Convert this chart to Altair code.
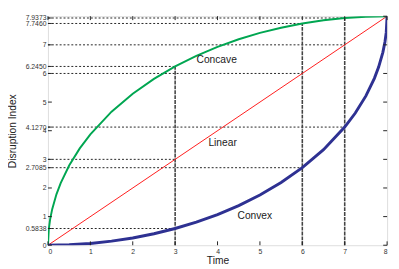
import altair as alt
import pandas as pd

# ---- data ----
concave_x = [0, 0.02, 0.05, 0.1, 0.2, 0.3, 0.5, 0.75, 1, 1.5, 2, 2.5, 3, 3.5, 4, 4.5, 5, 5.5, 6, 6.5, 7, 7.5, 8]
concave_y = [0, 0.565, 0.893, 1.261, 1.778, 2.170, 2.784, 3.382, 3.873, 4.664, 5.292, 5.809, 6.245, 6.614,
             6.928, 7.194, 7.416, 7.599, 7.746, 7.858, 7.937, 7.984, 8.0]
convex_x = [0, 0.5, 1, 1.5, 2, 2.5, 3, 3.5, 4, 4.5, 5, 5.5, 6, 6.5, 7, 7.25, 7.5, 7.7, 7.8, 7.9, 7.95, 7.98, 8]
convex_y = [0, 0.016, 0.063, 0.142, 0.254, 0.401, 0.584, 0.806, 1.072, 1.386, 1.755, 2.191, 2.708, 3.336,
            4.127, 4.618, 5.216, 5.830, 6.222, 6.739, 7.107, 7.435, 8.0]
linear_x = [0, 8]
linear_y = [0, 8]

# reference lines: (y value, x end)
href_y = [0.5838, 3, 6.2450, 2.7085, 6, 7.7460, 4.1270, 7, 7.9373]
href_x = [3, 3, 3, 6, 6, 6, 7, 7, 7]
vref_x = [3, 6, 7]
vref_top = [6.2450, 7.7460, 7.9373]

x_ticks = [0, 1, 2, 3, 4, 5, 6, 7, 8]
y_ticks_left = [0, 0.5838, 1, 2, 2.7085, 3, 4, 4.1270, 5, 6, 6.2450, 7, 7.7460, 7.9373]
y_ticks_right = [0, 1, 2, 3, 4, 5, 6, 7, 8]

label_text = ["Concave", "Linear", "Convex"]
label_x = [3.98, 4.12, 4.88]
label_y = [6.47, 3.57, 1.02]

W, H = 348, 235
FONT = "Liberation Sans"

xscale = alt.Scale(domain=[0, 8], nice=False, zero=False)
yscale = alt.Scale(domain=[0, 8], nice=False, zero=False)
xaxis = alt.Axis(values=x_ticks, format="d", tickSize=0, domain=False, grid=False,
                 labelFontSize=7, labelFont=FONT, labelColor="#333", labelPadding=3,
                 title="Time", titleFont=FONT, titleFontSize=10.5, titleFontWeight="normal",
                 titleColor="#222", titlePadding=1)
yaxis = alt.Axis(values=y_ticks_left, tickSize=0, domain=False, grid=False,
                 labelFontSize=7, labelFont=FONT, labelColor="#333", labelPadding=2,
                 labelOverlap=False,
                 labelExpr="datum.value % 1 == 0 ? format(datum.value, 'd') : format(datum.value, '.4f')",
                 title="Disruption Index", titleFont=FONT, titleFontSize=10.5,
                 titleFontWeight="normal", titleColor="#222", titlePadding=8)

def X(f):
    return alt.X(f, type="quantitative", scale=xscale, axis=xaxis)

def Y(f):
    return alt.Y(f, type="quantitative", scale=yscale, axis=yaxis)

href = pd.DataFrame({"y": href_y, "xe": href_x, "x0": 0})
vref = pd.DataFrame({"x": vref_x, "yt": vref_top, "y0": 0})

hlines = alt.Chart(href).mark_rule(color="#222", strokeWidth=1, strokeDash=[2, 2]).encode(
    x=X("x0"), x2="xe", y=Y("y"))
vlines = alt.Chart(vref).mark_rule(color="#444", strokeWidth=1.6, strokeDash=[4, 1]).encode(
    x=X("x"), y=Y("y0"), y2="yt")

def curve(xs, ys, color, width):
    return alt.Chart(pd.DataFrame({"x": xs, "y": ys})).mark_line(
        clip=True, color=color, strokeWidth=width).encode(x=X("x"), y=Y("y"))

c_concave = curve(concave_x, concave_y, "#00a651", 2.0)
c_linear = curve(linear_x, linear_y, "#ff1a1a", 1.0)
c_convex = curve(convex_x, convex_y, "#2e3192", 3.0)

labels = alt.Chart(pd.DataFrame({"t": label_text, "x": label_x, "y": label_y})).mark_text(
    font=FONT, fontSize=10.5, color="#222", align="center", baseline="middle").encode(
    x=X("x"), y=Y("y"), text="t:N")

xt = pd.DataFrame({"v": x_ticks})
ytl = pd.DataFrame({"v": y_ticks_left})
ytr = pd.DataFrame({"v": y_ticks_right})
tick_style = dict(color="#222", strokeWidth=1)
tb = alt.Chart(xt).mark_rule(**tick_style).encode(x=X("v"), y=alt.value(H), y2=alt.value(H - 4))
tt = alt.Chart(xt).mark_rule(**tick_style).encode(x=X("v"), y=alt.value(0), y2=alt.value(4))
tl = alt.Chart(ytl).mark_rule(**tick_style).encode(y=Y("v"), x=alt.value(0), x2=alt.value(4))
tr = alt.Chart(ytr).mark_rule(**tick_style).encode(y=Y("v"), x=alt.value(W), x2=alt.value(W - 4))

chart = alt.layer(hlines, vlines, c_linear, c_concave, c_convex, labels, tb, tt, tl, tr).properties(
    width=W, height=H,
    autosize=alt.AutoSizeParams(type="none"),
    padding={"left": 41, "top": 5, "right": 4, "bottom": 22},
).configure_view(stroke="#222", strokeWidth=2).configure(background="white")

chart.save("out.html", embed_options={"renderer": "svg", "actions": False})
